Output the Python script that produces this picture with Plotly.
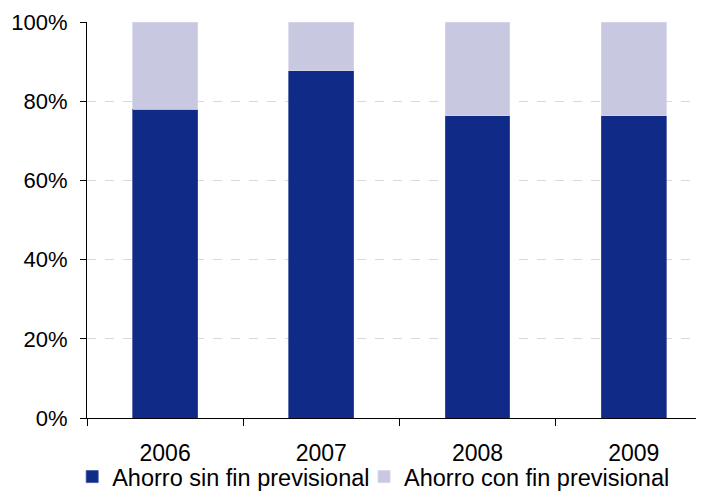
import plotly.graph_objects as go

years = ["2006", "2007", "2008", "2009"]
sin_fin = [0.78, 0.877, 0.763, 0.763]
con_fin = [1 - v for v in sin_fin]
series_names = ["Ahorro sin fin previsional", "Ahorro con fin previsional"]
y_ticks = [0, 0.2, 0.4, 0.6, 0.8, 1.0]
y_tick_labels = ["0%", "20%", "40%", "60%", "80%", "100%"]

fig = go.Figure()
fig.add_trace(go.Bar(x=years, y=sin_fin, name=series_names[0],
                     marker=dict(color="#0f2a87", line=dict(color="#3d4f9e", width=0.8)),
                     width=0.415, legend="legend"))
fig.add_trace(go.Bar(x=years, y=con_fin, name=series_names[1],
                     marker=dict(color="#c9c8e1", line=dict(color="#d6d5ea", width=0.8)),
                     width=0.415, legend="legend2"))

legend_style = dict(orientation="h", xanchor="left", y=-0.093, yanchor="top",
                    font=dict(size=23.5), itemwidth=30, bgcolor="rgba(0,0,0,0)")

# page body has an 8px margin, so the figure is sized to end at the window edge
fig.update_layout(
    barmode="stack",
    width=696, height=484,
    margin=dict(l=79, r=0, t=14, b=74, autoexpand=False),
    plot_bgcolor="white", paper_bgcolor="white",
    font=dict(family="Liberation Sans, Arial, sans-serif", size=22, color="#000000"),
    showlegend=True,
    legend=dict(x=-0.024, **legend_style),
    legend2=dict(x=0.449, **legend_style),
)
fig.update_xaxes(
    type="category", range=[-0.5, 3.45],
    showline=True, linecolor="#000000", linewidth=1,
    ticks="outside", tickson="boundaries", ticklen=7, tickcolor="#000000",
    showgrid=False, tickfont=dict(size=23), ticklabelstandoff=14,
)
fig.update_yaxes(
    range=[0, 1], tickvals=y_ticks, ticktext=y_tick_labels,
    showline=True, linecolor="#000000", linewidth=1,
    ticks="outside", ticklen=6, tickcolor="#000000",
    showgrid=True, gridcolor="#d9d9d9", griddash="dash", gridwidth=1,
    zeroline=False, tickfont=dict(size=22), ticklabelstandoff=8,
)

fig.write_html("out.html")
